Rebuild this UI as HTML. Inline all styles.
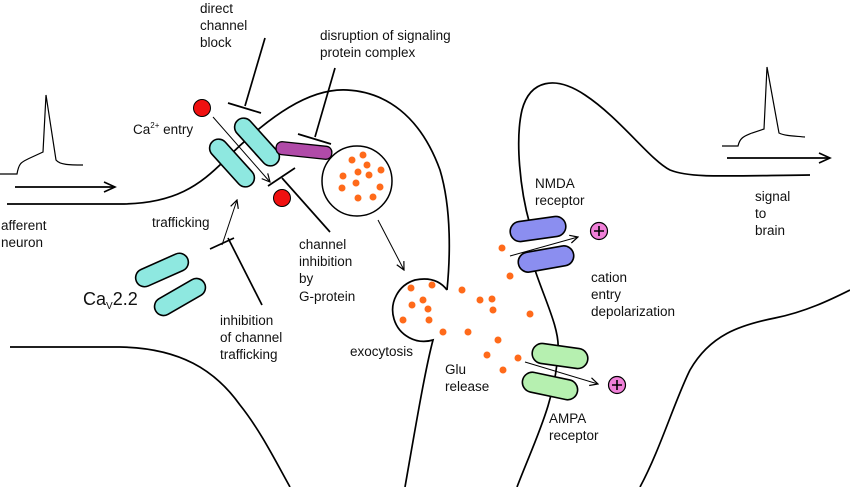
<!DOCTYPE html>
<html><head><style>
html,body{margin:0;padding:0;background:#fff;}
svg{display:block}
text{font-family:"Liberation Sans",Arial,sans-serif;font-size:13.5px;fill:#111}
</style></head><body>
<svg width="850" height="487" viewBox="0 0 850 487" xmlns="http://www.w3.org/2000/svg">
<defs>
<marker id="ah" markerWidth="10" markerHeight="10" refX="9" refY="5" orient="auto" markerUnits="userSpaceOnUse">
<path d="M1,1 L9,5 L1,9" fill="none" stroke="#000" stroke-width="1.2"/></marker>
<marker id="ah2" markerWidth="14" markerHeight="14" refX="12" refY="7" orient="auto" markerUnits="userSpaceOnUse">
<path d="M1,2 L12,7 L1,12" fill="none" stroke="#000" stroke-width="1.6"/></marker>
</defs>
<g fill="none" stroke="#000" stroke-width="1.7">
<path d="M7,204 L120,204 C175,204 200,185 225,160 C270,115 310,88 347,90 C385,92 420,115 440,170 C452,210 450,260 447,290"/>
<path d="M447,290 C438,278 425,278 415,280 A30,30 0 1,0 433,340 C425,370 415,430 405,487"/>
<path d="M10,347 L120,347 C180,348 215,370 240,405 C260,430 275,460 290,487"/>
<path d="M530,225 C520,190 515,140 522,110 C530,80 555,75 585,95 C620,118 650,160 670,170 C690,178 720,176 810,175"/>
<path d="M535,270 C545,300 560,330 558,350 C556,400 535,440 517,487"/>
<path d="M640,487 C660,450 675,400 690,370 C710,335 740,325 775,318 C805,312 830,300 850,290"/>
<path d="M0,174 L17,174 C19,162 22,162 30,158 L43,152 L46,95 L56,160 C60,165 70,165 83,165" stroke-width="1.2"/>
<path d="M722,146 L738,146 C740,137 745,136 752,133 L764,129 L767,67 L779,133 C785,136 795,136 805,137" stroke-width="1.2"/>
<line x1="15" y1="187" x2="115" y2="187" marker-end="url(#ah2)"/>
<line x1="727" y1="158" x2="830" y2="158" marker-end="url(#ah2)"/>
<line x1="265" y1="38" x2="245" y2="106"/>
<line x1="228" y1="103" x2="261" y2="113"/>
<line x1="335" y1="68" x2="315" y2="137"/>
<line x1="298" y1="134" x2="331" y2="144"/>
<line x1="268" y1="186" x2="295" y2="168"/>
<line x1="282" y1="178" x2="330" y2="232"/>
<line x1="210" y1="249" x2="234" y2="238"/>
<line x1="228" y1="238" x2="262" y2="305"/>
</g>
<g stroke="#000" stroke-width="1">
<line x1="213" y1="117" x2="270" y2="182" marker-end="url(#ah)"/>
<line x1="222" y1="245" x2="237" y2="200" marker-end="url(#ah)"/>
<line x1="378" y1="220" x2="404" y2="270" marker-end="url(#ah)"/>
<line x1="510" y1="256" x2="578" y2="237" marker-end="url(#ah)"/>
<line x1="525" y1="362" x2="598" y2="384" marker-end="url(#ah)"/>
</g>
<g fill="#8ee8e0" stroke="#000" stroke-width="1.6">
<rect x="-29" y="-9" width="58" height="18" rx="9" transform="translate(232,163) rotate(48)"/>
<rect x="-29" y="-9" width="58" height="18" rx="9" transform="translate(257,142) rotate(48)"/>
<rect x="-28" y="-9" width="56" height="18" rx="9" transform="translate(162,270) rotate(-24)"/>
<rect x="-28" y="-9" width="56" height="18" rx="9" transform="translate(180,297) rotate(-30)"/>
</g>
<rect x="-28" y="-6" width="56" height="13" rx="6" transform="translate(304,150) rotate(6)" fill="#b04aa8" stroke="#000" stroke-width="1.3"/>
<g fill="#8b8ef0" stroke="#000" stroke-width="1.6">
<rect x="-28" y="-10" width="56" height="20" rx="10" transform="translate(538,229) rotate(-8)"/>
<rect x="-28" y="-10" width="56" height="20" rx="10" transform="translate(546,259) rotate(-10)"/>
</g>
<g fill="#b6f0b0" stroke="#000" stroke-width="1.6">
<rect x="-28" y="-10" width="56" height="20" rx="10" transform="translate(560,356) rotate(8)"/>
<rect x="-28" y="-10" width="56" height="20" rx="10" transform="translate(550,386) rotate(12)"/>
</g>
<circle cx="202" cy="108" r="8.5" fill="#f01010" stroke="#000"/>
<circle cx="282" cy="198" r="8.5" fill="#f01010" stroke="#000"/>
<circle cx="357" cy="181" r="35" fill="none" stroke="#000" stroke-width="1.5"/>
<g fill="#ff6a1a">
<circle cx="352" cy="160" r="3.5"/><circle cx="363" cy="155" r="3.5"/><circle cx="367" cy="165" r="3.5"/><circle cx="358" cy="172" r="3.5"/><circle cx="369" cy="175" r="3.5"/><circle cx="381" cy="170" r="3.5"/><circle cx="343" cy="176" r="3.5"/><circle cx="356" cy="183" r="3.5"/><circle cx="342" cy="188" r="3.5"/><circle cx="380" cy="187" r="3.5"/><circle cx="358" cy="198" r="3.5"/><circle cx="373" cy="197" r="3.5"/>
<circle cx="411" cy="288" r="3.5"/><circle cx="432" cy="285" r="3.5"/><circle cx="412" cy="305" r="3.5"/><circle cx="423" cy="300" r="3.5"/><circle cx="428" cy="309" r="3.5"/><circle cx="403" cy="320" r="3.5"/><circle cx="429" cy="320" r="3.5"/>
<circle cx="443" cy="332" r="3.5"/><circle cx="468" cy="332" r="3.5"/><circle cx="462" cy="290" r="3.5"/><circle cx="480" cy="300" r="3.5"/><circle cx="492" cy="299" r="3.5"/><circle cx="510" cy="276" r="3.5"/><circle cx="502" cy="248" r="3.5"/><circle cx="493" cy="310" r="3.5"/><circle cx="530" cy="314" r="3.5"/><circle cx="498" cy="340" r="3.5"/><circle cx="518" cy="358" r="3.5"/><circle cx="487" cy="355" r="3.5"/><circle cx="503" cy="370" r="3.5"/>
</g>
<g stroke="#000" stroke-width="1.2">
<circle cx="599" cy="231" r="8.5" fill="#f080d8"/>
<circle cx="617" cy="385" r="8.5" fill="#f080d8"/>
<path d="M594,231 h10 M599,226 v10 M612,385 h10 M617,380 v10" stroke-width="1.6"/>
</g>
<text x="200" y="13">direct</text>
<text x="200" y="30">channel</text>
<text x="200" y="47">block</text>
<text x="320" y="40">disruption of signaling</text>
<text x="320" y="57">protein complex</text>
<text x="133" y="134">Ca<tspan font-size="8" dy="-6">2+</tspan><tspan dy="6"> entry</tspan></text>
<text x="1" y="230">afferent</text>
<text x="1" y="247">neuron</text>
<text x="152" y="227">trafficking</text>
<text x="83" y="305" style="font-size:18px">Ca<tspan font-size="10" dy="4">V</tspan><tspan dy="-4">2.2</tspan></text>
<text x="299" y="249">channel</text>
<text x="299" y="266">inhibition</text>
<text x="299" y="283">by</text>
<text x="299" y="301">G-protein</text>
<text x="220" y="325">inhibition</text>
<text x="220" y="342">of channel</text>
<text x="220" y="359">trafficking</text>
<text x="350" y="356">exocytosis</text>
<text x="445" y="374">Glu</text>
<text x="445" y="391">release</text>
<text x="535" y="188">NMDA</text>
<text x="535" y="205">receptor</text>
<text x="591" y="282">cation</text>
<text x="591" y="299">entry</text>
<text x="591" y="316">depolarization</text>
<text x="549" y="423">AMPA</text>
<text x="549" y="440">receptor</text>
<text x="755" y="201">signal</text>
<text x="755" y="218">to</text>
<text x="755" y="235">brain</text>
</svg>
</body></html>
